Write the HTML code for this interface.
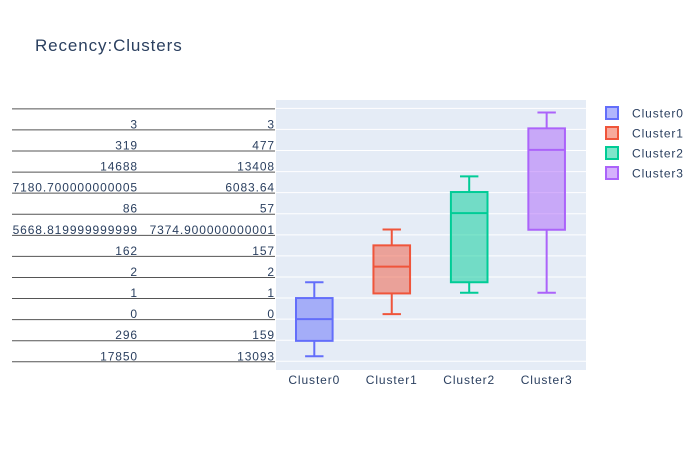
<!DOCTYPE html>
<html><head><meta charset="utf-8"><style>
body{margin:0;background:#fff;}
svg{display:block;font-family:"Liberation Sans",Arial,sans-serif;}
text{letter-spacing:0.9px;}
</style></head><body>
<svg id="chart" width="700" height="450" viewBox="0 0 700 450">
<rect x="0" y="0" width="700" height="450" fill="#fff"/>
<text x="35" y="51" font-size="17" fill="#2a3f5f">Recency:Clusters</text>
<rect x="276" y="100" width="310" height="270" fill="#e5ecf6"/>
<g id="grid"></g><g id="ylabels"></g><g id="boxes"></g><g id="xlabels"></g><g id="legend"></g>
</svg>
<script>
const categories = ["Cluster0","Cluster1","Cluster2","Cluster3"];
const lowerWhisker = [0.24,2.24,3.25,3.25];
const q1 = [0.97,3.22,3.75,6.24];
const median = [2.0,4.49,7.03,10.03];
const q3 = [3.0,5.5,8.03,11.05];
const upperWhisker = [3.75,6.25,8.77,11.8];
const yLabelsA = ["17850","296","0","1","2","162","5668.819999999999","86","7180.700000000005","14688","319","3",""];
const yLabelsB = ["13093","159","0","1","2","157","7374.900000000001","57","6083.64","13408","477","3",""];
const colors = ["#636efa","#EF553B","#00cc96","#ab63fa"];
const fills = ["rgba(99,110,250,0.5)","rgba(239,85,59,0.5)","rgba(0,204,150,0.5)","rgba(171,99,250,0.5)"];
const NS="http://www.w3.org/2000/svg";
const X0=276,X1=586;
function y(v){return 361.3-v*21.08;}
function x(i){return 314.3+i*77.45;}
function mk(tag,attrs,parent){const e=document.createElementNS(NS,tag);for(const k in attrs)e.setAttribute(k,attrs[k]);parent.appendChild(e);return e;}
const grid=document.getElementById('grid'),yl=document.getElementById('ylabels'),bx=document.getElementById('boxes'),xl=document.getElementById('xlabels'),lg=document.getElementById('legend');
for(let i=0;i<yLabelsA.length;i++){
  const yy=y(i);
  const g=mk('line',{x1:X0,x2:X1,y1:yy,y2:yy,stroke:'#fff','stroke-width':1},grid);
  
  
  const u=mk('line',{x1:12,x2:275,y1:yy+0.5,y2:yy+0.5,stroke:'#555','stroke-width':1},yl);
  
  
  const ta=mk('text',{x:138,y:yy-1,'text-anchor':'end','font-size':12,fill:'#2a3f5f'},yl);ta.textContent=yLabelsA[i];
  
  
  const tb=mk('text',{x:275,y:yy-1,'text-anchor':'end','font-size':12,fill:'#2a3f5f'},yl);tb.textContent=yLabelsB[i];
  
  
}
for(let i=0;i<categories.length;i++){
  const g=mk('g',{},bx);
  
  
  const cx=x(i),hw=18.3,cw=9.2,c=colors[i];
  mk('line',{x1:cx,x2:cx,y1:y(upperWhisker[i]),y2:y(q3[i]),stroke:c,'stroke-width':2},g);
  mk('line',{x1:cx,x2:cx,y1:y(q1[i]),y2:y(lowerWhisker[i]),stroke:c,'stroke-width':2},g);
  mk('line',{x1:cx-cw,x2:cx+cw,y1:y(upperWhisker[i]),y2:y(upperWhisker[i]),stroke:c,'stroke-width':2},g);
  mk('line',{x1:cx-cw,x2:cx+cw,y1:y(lowerWhisker[i]),y2:y(lowerWhisker[i]),stroke:c,'stroke-width':2},g);
  mk('rect',{x:cx-hw,y:y(q3[i]),width:hw*2,height:y(q1[i])-y(q3[i]),fill:fills[i],stroke:c,'stroke-width':2},g);
  mk('line',{x1:cx-hw,x2:cx+hw,y1:y(median[i]),y2:y(median[i]),stroke:c,'stroke-width':2},g);
  const t=mk('text',{x:cx,y:384,'text-anchor':'middle','font-size':12,fill:'#2a3f5f'},xl);t.textContent=categories[i];
  
  
  const le=mk('g',{},lg);
  
  
  const ly=113+i*20;
  mk('rect',{x:606,y:ly-6,width:12,height:12,fill:fills[i],stroke:c,'stroke-width':2},le);
  const lt=mk('text',{x:632,y:ly+4.5,'font-size':12,fill:'#2a3f5f'},le);lt.textContent=categories[i];
}
</script>
</body></html>
